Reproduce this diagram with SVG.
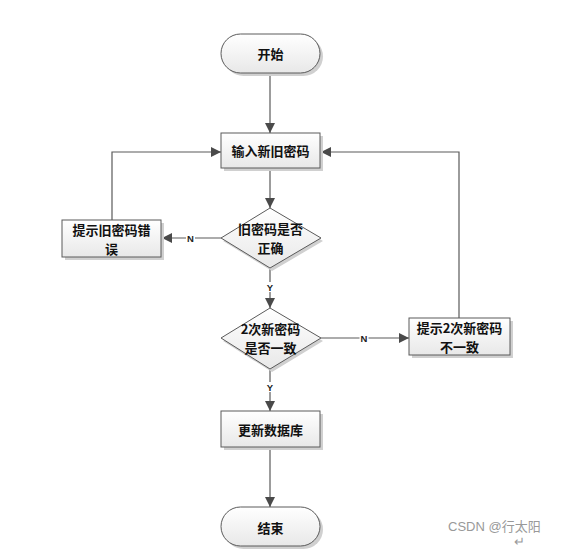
<svg xmlns="http://www.w3.org/2000/svg" width="563" height="550" viewBox="0 0 563 550">
<style>
.shape{fill:url(#g);stroke:#5a5a5a;stroke-width:1}
.shadow{fill:#d0d0d0}
.t{font-family:"Noto Sans CJK SC","Noto Sans",sans-serif;font-size:13px;font-weight:bold;fill:#111;text-anchor:middle;dominant-baseline:central}
.c{fill:none;stroke:#5a5a5a;stroke-width:1.2}
.lbl{font-family:"Liberation Sans",Arial,sans-serif;font-size:9.5px;font-weight:bold;fill:#222;text-anchor:middle;dominant-baseline:central}
.wm{font-family:"Liberation Sans","Noto Sans CJK SC",sans-serif;font-size:13px;fill:#999}
</style>
<defs>
<linearGradient id="g" x1="0" y1="0" x2="0" y2="1">
<stop offset="0" stop-color="#ffffff"/>
<stop offset="1" stop-color="#e8e8e8"/>
</linearGradient>
<marker id="a" viewBox="0 0 10 10" refX="10" refY="5" markerWidth="10" markerHeight="10" markerUnits="userSpaceOnUse" orient="auto">
<path d="M0,0 L10,5 L0,10 z" fill="#4a4a4a"/>
</marker>
</defs>
<rect width="563" height="550" fill="#fff"/>
<g id="connectors">
<path class="c" d="M270,73 V133" marker-end="url(#a)"/>
<path class="c" d="M270,168 V208" marker-end="url(#a)"/>
<path class="c" d="M221,238 H162" marker-end="url(#a)"/>
<path class="c" d="M112,220 V152 H221" marker-end="url(#a)"/>
<path class="c" d="M270,268 V308" marker-end="url(#a)"/>
<path class="c" d="M321,338 H409" marker-end="url(#a)"/>
<path class="c" d="M459,318 V152 H321" marker-end="url(#a)"/>
<path class="c" d="M270,369 V411" marker-end="url(#a)"/>
<path class="c" d="M270,447 V507" marker-end="url(#a)"/>
<rect x="186" y="233" width="9" height="10" fill="#fff"/>
<text class="lbl" x="190.5" y="238">N</text>
<rect x="265.5" y="282" width="9" height="10" fill="#fff"/>
<text class="lbl" x="270" y="287">Y</text>
<rect x="359.5" y="333" width="9" height="10" fill="#fff"/>
<text class="lbl" x="364" y="338">N</text>
<rect x="265.5" y="382" width="9" height="10" fill="#fff"/>
<text class="lbl" x="270" y="387">Y</text>
</g>
<g id="start">
<rect class="shadow" x="224" y="37" width="99" height="39" rx="19.5"/>
<rect class="shape" x="221" y="34" width="99" height="39" rx="19.5"/>
<text class="t" x="270.5" y="53.5">开始</text>
</g>
<g id="input">
<rect class="shadow" x="224" y="136" width="99" height="35"/>
<rect class="shape" x="221" y="133" width="99" height="35"/>
<text class="t" x="270.5" y="150.5">输入新旧密码</text>
</g>
<g id="check-old">
<path class="shadow" d="M272,211 L323,241 L272,271 L223,241 z"/>
<path class="shape" d="M270,208 L321,238 L270,268 L221,238 z"/>
<text class="t" x="270.5" y="228.5">旧密码是否</text>
<text class="t" x="270.5" y="247.5">正确</text>
</g>
<g id="err-old">
<rect class="shadow" x="65" y="223" width="99" height="37"/>
<rect class="shape" x="62" y="220" width="99" height="37"/>
<text class="t" x="111.5" y="229">提示旧密码错</text>
<text class="t" x="111.5" y="248">误</text>
</g>
<g id="check-new">
<path class="shadow" d="M272,311 L323,341 L272,372 L223,341 z"/>
<path class="shape" d="M270,308 L321,338 L270,369 L221,338 z"/>
<text class="t" x="270.5" y="328.5">2次新密码</text>
<text class="t" x="270.5" y="347.5">是否一致</text>
</g>
<g id="err-new">
<rect class="shadow" x="412" y="321" width="101" height="37"/>
<rect class="shape" x="409" y="318" width="101" height="37"/>
<text class="t" x="459.5" y="327.5">提示2次新密码</text>
<text class="t" x="459.5" y="346.5">不一致</text>
</g>
<g id="update">
<rect class="shadow" x="224" y="414" width="99" height="36"/>
<rect class="shape" x="221" y="411" width="99" height="36"/>
<text class="t" x="270.5" y="429">更新数据库</text>
</g>
<g id="end">
<rect class="shadow" x="224" y="510" width="99" height="39" rx="19.5"/>
<rect class="shape" x="221" y="507" width="99" height="39" rx="19.5"/>
<text class="t" x="270.5" y="527">结束</text>
</g>
<text class="wm" x="448" y="531">CSDN @行太阳</text>
<text class="wm" x="514" y="546" font-size="10">↵</text>
</svg>
